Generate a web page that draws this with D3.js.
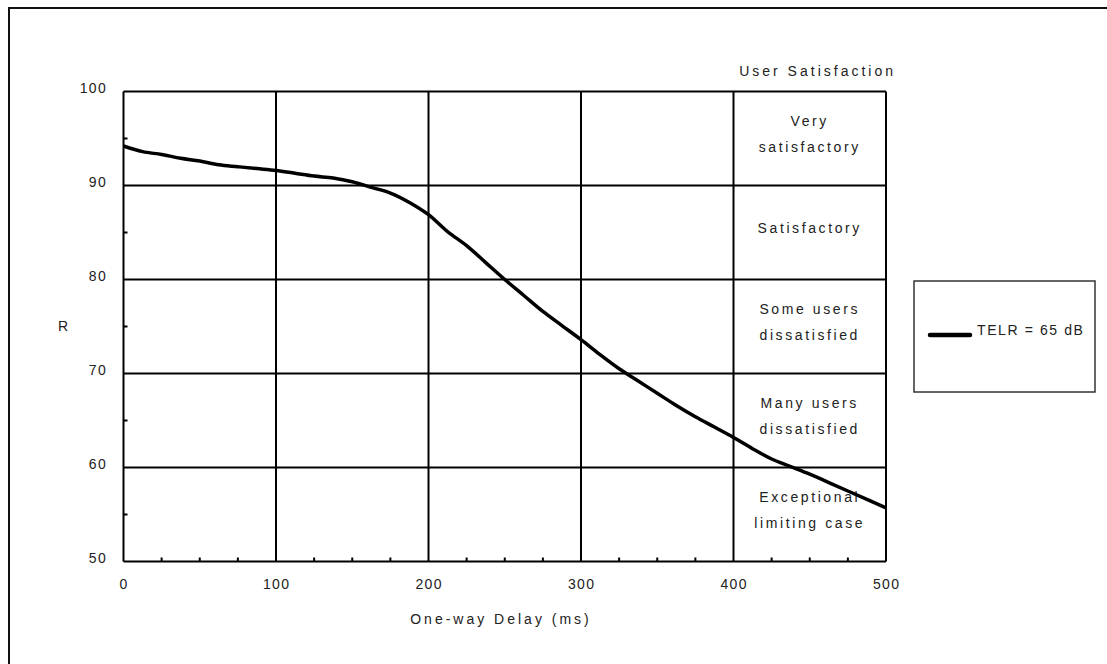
<!DOCTYPE html>
<html>
<head>
<meta charset="utf-8">
<script src="https://cdn.jsdelivr.net/npm/d3@7"></script>
<style>
  html, body { margin: 0; padding: 0; background: #fff; }
  svg { display: block; }
  text { font-family: "Liberation Sans", Arial, sans-serif; fill: #222; }
</style>
</head>
<body>
<svg id="chart" width="1107" height="664"></svg>
<script>
// ---- data ----
const delayMs = [0, 12.5, 25, 37.5, 50, 62.5, 75, 87.5, 100, 112.5, 125, 137.5, 150, 162.5, 175, 187.5, 200,
  212.5, 225, 237.5, 250, 262.5, 275, 287.5, 300, 312.5, 325, 337.5, 350, 362.5, 375, 387.5, 400,
  412.5, 425, 437.5, 450, 462.5, 475, 487.5, 500];
const rValue = [94.2, 93.6, 93.3, 92.9, 92.6, 92.2, 92.0, 91.8, 91.6, 91.3, 91.0, 90.8, 90.4, 89.8, 89.2, 88.2, 86.9,
  85.1, 83.6, 81.8, 80.0, 78.3, 76.6, 75.1, 73.6, 72.0, 70.5, 69.2, 67.9, 66.6, 65.4, 64.3, 63.2,
  62.0, 60.9, 60.1, 59.3, 58.4, 57.5, 56.6, 55.7];
const xTicks = [0, 100, 200, 300, 400, 500];
const yTicks = [50, 60, 70, 80, 90, 100];
const xMinor = [25, 50, 75, 125, 150, 175, 225, 250, 275, 325, 350, 375, 425, 450, 475];
const yMinor = [55, 65, 75, 85, 95];
const zoneLabels = [["Very", "satisfactory"], ["Satisfactory"], ["Some users", "dissatisfied"], ["Many users", "dissatisfied"], ["Exceptional", "limiting case"]];
const zoneMid = [95, 85, 75, 65, 55];
const seriesName = "TELR = 65 dB";

const svg = d3.select("#chart");
const x = d3.scaleLinear().domain([0, 500]).range([123.5, 886]);
const y = d3.scaleLinear().domain([50, 100]).range([561.5, 91.5]);

// outer frame
svg.append("rect").attr("x", 9).attr("y", 8).attr("width", 1120).attr("height", 720)
  .attr("fill", "none").attr("stroke", "#111").attr("stroke-width", 2);

// gridlines
const grid = svg.append("g").attr("stroke", "#000").attr("stroke-width", 2);
grid.selectAll(".vx").data(xTicks).join("line")
  .attr("x1", d => x(d)).attr("x2", d => x(d)).attr("y1", y(100)).attr("y2", y(50));
grid.selectAll(".hy").data(yTicks).join("line")
  .attr("x1", x(0)).attr("x2", x(500)).attr("y1", d => y(d)).attr("y2", d => y(d));

// minor ticks
const mt = svg.append("g").attr("stroke", "#000").attr("stroke-width", 2);
mt.selectAll(".mx").data(xMinor).join("line")
  .attr("x1", d => x(d)).attr("x2", d => x(d)).attr("y1", y(50)).attr("y2", y(50) - 4);
mt.selectAll(".my").data(yMinor).join("line")
  .attr("x1", x(0)).attr("x2", x(0) + 4).attr("y1", d => y(d)).attr("y2", d => y(d));

// tick labels
svg.append("g").selectAll("text").data(yTicks).join("text")
  .attr("x", 107).attr("y", d => y(d) + 1).attr("text-anchor", "end")
  .style("font-size", "14px").style("letter-spacing", "1.3px").text(d => d);
svg.append("g").selectAll("text").data(xTicks).join("text")
  .attr("x", d => x(d) + 0.6).attr("y", 589).attr("text-anchor", "middle")
  .style("font-size", "14px").style("letter-spacing", "1.3px").text(d => d);

// axis titles
svg.append("text").attr("x", 501).attr("y", 624).attr("text-anchor", "middle")
  .style("font-size", "14px").style("letter-spacing", "3px").text("One-way Delay (ms)");
svg.append("text").attr("x", 63).attr("y", 331).attr("text-anchor", "middle")
  .style("font-size", "14px").text("R");
svg.append("text").attr("x", 896).attr("y", 76).attr("text-anchor", "end")
  .style("font-size", "14px").style("letter-spacing", "3px").text("User Satisfaction");

// zone labels
const colX = (x(400) + x(500)) / 2;
zoneLabels.forEach((lines, i) => {
  const cy = y(zoneMid[i]);
  lines.forEach((t, j) => {
    const off = lines.length === 1 ? 0 : (j === 0 ? -13 : 13);
    svg.append("text").attr("x", colX).attr("y", cy + off).attr("text-anchor", "middle")
      .style("font-size", "14px").style("letter-spacing", "2.6px").text(t);
  });
});

// curve
const line = d3.line().x((d, i) => x(delayMs[i])).y(d => y(d)).curve(d3.curveMonotoneX);
svg.append("path").datum(rValue).attr("d", line)
  .attr("fill", "none").attr("stroke", "#000").attr("stroke-width", 3.5)
  .attr("stroke-linejoin", "round");

// legend
const lg = svg.append("g");
lg.append("rect").attr("x", 914).attr("y", 281).attr("width", 181).attr("height", 111)
  .attr("fill", "#fff").attr("stroke", "#333").attr("stroke-width", 1.5);
lg.append("line").attr("x1", 930).attr("x2", 970).attr("y1", 335).attr("y2", 335)
  .attr("stroke", "#000").attr("stroke-width", 4.5).attr("stroke-linecap", "round");
lg.append("text").attr("x", 977).attr("y", 335)
  .style("font-size", "14px").style("letter-spacing", "1.6px").text(seriesName);
</script>
</body>
</html>
